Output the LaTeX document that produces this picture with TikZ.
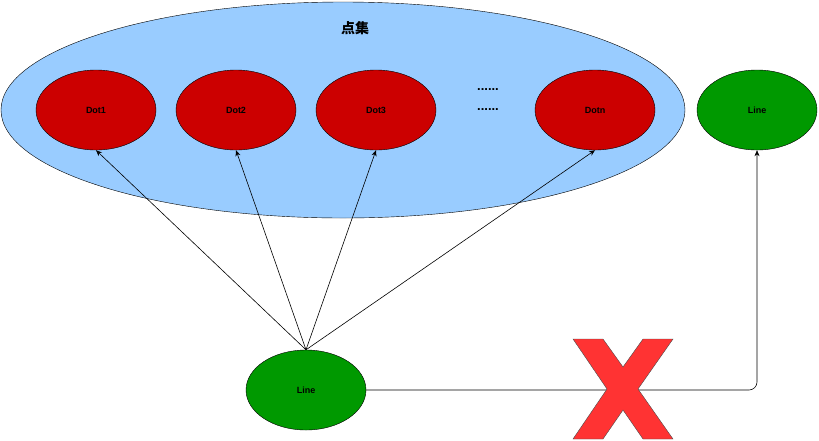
\documentclass[tikz,border=0pt]{standalone}
\usepackage{fontspec}
\setmainfont{Liberation Sans}
\newfontfamily\cjk{Noto Sans CJK SC}
\usetikzlibrary{shapes.geometric,arrows.meta}
\definecolor{setblue}{HTML}{99CCFF}
\definecolor{dotred}{HTML}{CC0000}
\definecolor{lgreen}{HTML}{009900}
\definecolor{xred}{HTML}{FF3333}
\begin{document}
\begin{tikzpicture}[x=1pt,y=-1pt,
  dot/.style={ellipse,draw=black,fill=dotred,minimum width=120pt,minimum height=80pt,inner sep=0pt,font=\fontsize{9}{10}\selectfont\bfseries},
  gr/.style={ellipse,draw=black,fill=lgreen,minimum width=120pt,minimum height=80pt,inner sep=0pt,font=\fontsize{9}{10}\selectfont\bfseries},
  arr/.style={-{Stealth[length=6pt,width=5pt]},line width=0.6pt}]
\useasboundingbox (0,0) rectangle (819,440);
\node[ellipse,draw=black,fill=setblue,minimum width=684pt,minimum height=216pt,inner sep=0pt] (set) at (343,110) {};
\node[font=\cjk\fontsize{14}{16}\selectfont\bfseries] (title) at (355,28) {点集};
\node[dot] (d1) at (96,110) {Dot1};
\node[dot] (d2) at (236,110) {Dot2};
\node[dot] (d3) at (376,110) {Dot3};
\node[dot] (dn) at (595,110) {Dotn};
\node[font=\fontsize{13}{14}\selectfont\bfseries] (e1) at (488,90) {......};
\node[font=\fontsize{13}{14}\selectfont\bfseries] (e2) at (488,110) {......};
\node[gr] (l2) at (757,110) {Line};
\node[gr] (l1) at (306,390) {Line};
\draw[arr] (l1.north) -- (d1.south);
\draw[arr] (l1.north) -- (d2.south);
\draw[arr] (l1.north) -- (d3.south);
\draw[arr] (l1.north) -- (dn.south);
\draw[arr,rounded corners=8pt] (l1.east) -| (l2.south);
\draw[fill=xred,draw=black!70] (573,339) -- (603,339) -- (623,367) -- (643,339) -- (673,339) -- (638,389) -- (673,439) -- (643,439) -- (623,410) -- (603,439) -- (573,439) -- (607,389) -- cycle;
\end{tikzpicture}
\end{document}
